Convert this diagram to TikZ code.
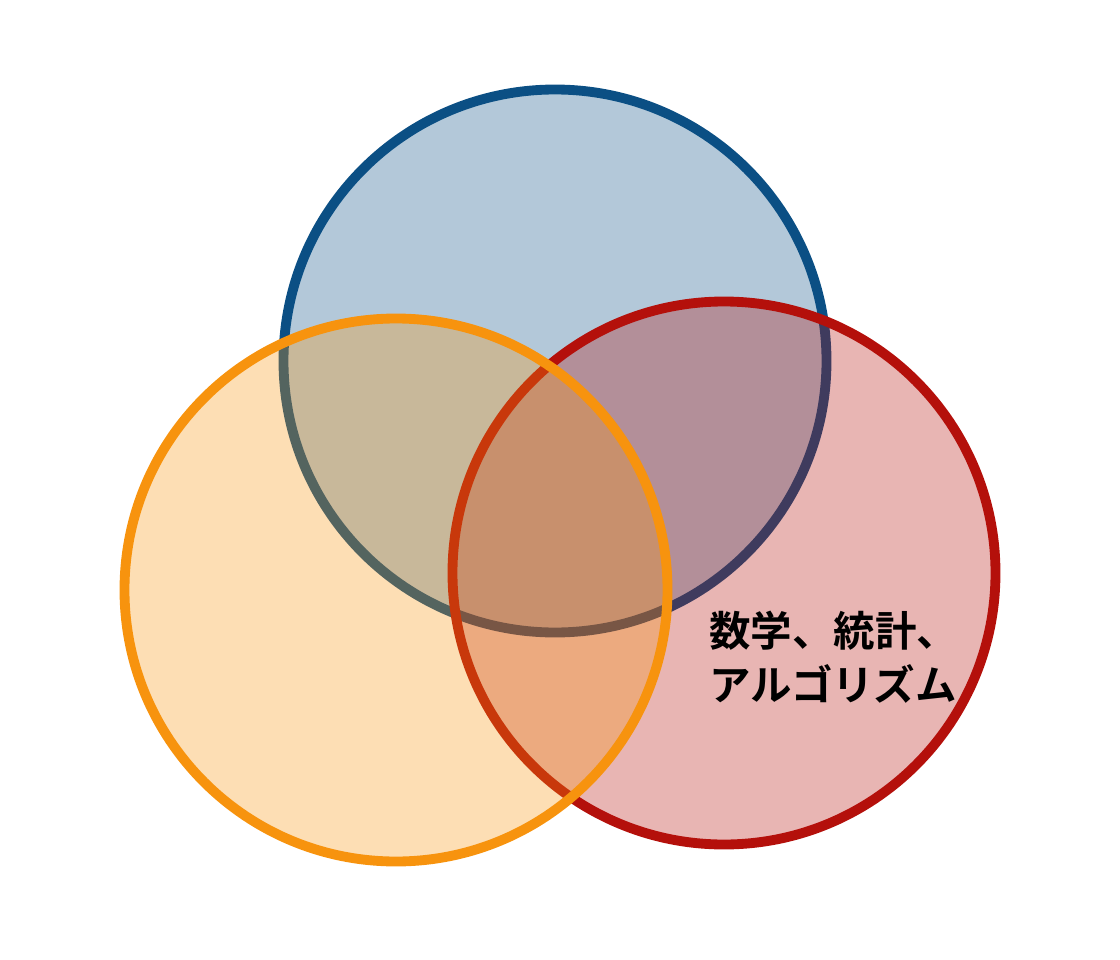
\documentclass[tikz,border=0pt]{standalone}
\usepackage{fontspec}
\newfontfamily\jpfont{Noto Sans CJK JP}[BoldFont={Noto Sans CJK JP Bold}]
\usepackage{tikz}
\usetikzlibrary{positioning}
\usetikzlibrary{calc}
\definecolor{setblue}{RGB}{11,79,132}
\definecolor{setred}{RGB}{180,16,11}
\definecolor{setorange}{RGB}{247,147,14}
\tikzstyle{setcircle}=[circle,line width=7,fill opacity=0.31,minimum size=543,inner sep=0pt]
\tikzstyle{setlabel} = [font=\jpfont\bfseries\fontsize{29.5pt}{38pt}\selectfont,align=left,anchor=north west,inner sep=0pt]

\begin{document}
\begin{tikzpicture}[x=0.025cm,y=-0.025cm]

 \useasboundingbox (0,0) rectangle (1120,960);

 %circles
  \def\r{271.5};

   \foreach \x/\y/\name/\col in {555/361/math/setblue, 724/573/stat/setred, 396/590/code/setorange}
          \node[setcircle,draw=\col,fill=\col,minimum size=2*\r*0.025cm] (\name) at (\x,\y) {};

 %label
  \node[setlabel] (lbl) at (709,611) {数学、統計、\\アルゴリズム};

\end{tikzpicture}
\end{document}
